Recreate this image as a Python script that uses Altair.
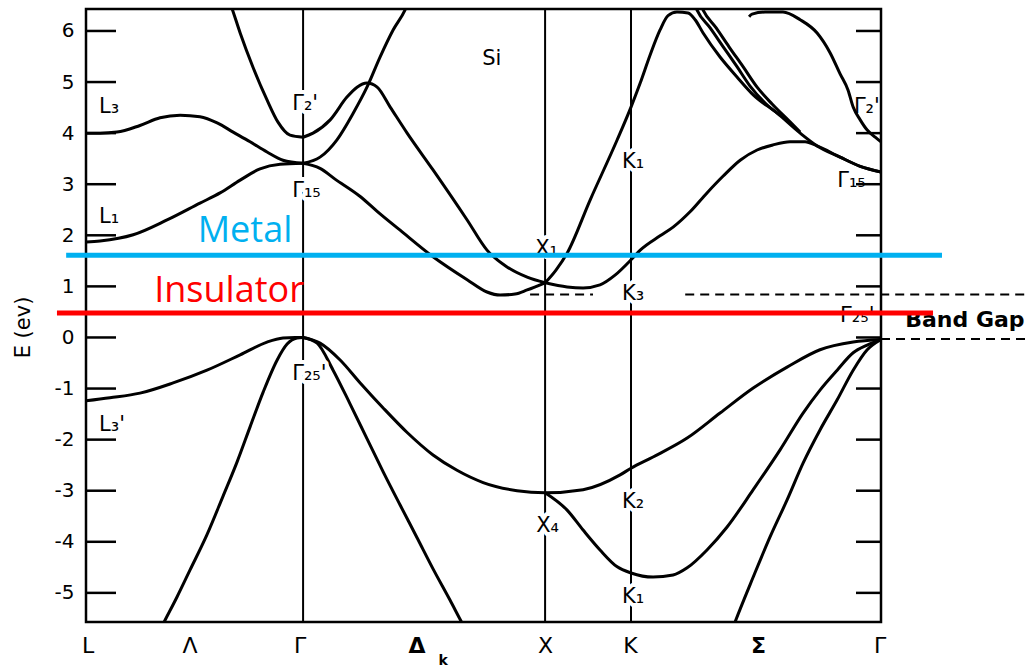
import altair as alt
import pandas as pd

# k-path coordinate in units of 2*pi/a (|Gamma-X| = 1); energies in eV
K_L, K_GAMMA, K_X, K_K, K_GAMMA2 = -0.897, 0.0, 1.0, 1.355, 2.388
E_MIN, E_MAX = -5.57, 6.43

# ---- conduction bands -------------------------------------------------
l3_k = [-0.897, -0.839, -0.769, -0.674, -0.591, -0.508, -0.426, -0.355, -0.289, -0.219, -0.149, -0.083, 0.0]
l3_e = [4.00, 4.00, 4.02, 4.15, 4.30, 4.35, 4.32, 4.20, 4.02, 3.83, 3.63, 3.47, 3.41]

l1_k = [-0.897, -0.839, -0.702, -0.562, -0.426, -0.343, -0.260, -0.178, -0.095, 0.0]
l1_e = [1.87, 1.89, 2.01, 2.30, 2.63, 2.83, 3.08, 3.30, 3.39, 3.41]

g2_left_k = [-0.306, -0.293, -0.260, -0.207, -0.149, -0.103, -0.054, 0.0]
g2_left_e = [6.60, 6.43, 5.96, 5.29, 4.65, 4.21, 3.96, 3.92]

g2_x_k = [0.0, 0.041, 0.112, 0.182, 0.223, 0.264, 0.306, 0.360, 0.430, 0.537, 0.678, 0.760, 0.843, 0.926, 1.0]
g2_x_e = [3.92, 4.00, 4.26, 4.71, 4.90, 4.98, 4.90, 4.51, 4.00, 3.28, 2.30, 1.71, 1.38, 1.18, 1.07]

g15_up_k = [0.0, 0.070, 0.140, 0.207, 0.264, 0.318, 0.372, 0.421, 0.438]
g15_up_e = [3.41, 3.53, 3.87, 4.39, 4.90, 5.49, 6.02, 6.41, 6.60]

delta1_k = [0.0, 0.070, 0.132, 0.236, 0.306, 0.401, 0.537, 0.678, 0.760, 0.814, 0.876, 0.926, 1.0]
delta1_e = [3.41, 3.31, 3.10, 2.76, 2.47, 2.10, 1.58, 1.13, 0.89, 0.83, 0.85, 0.93, 1.07]

xk_low_k = [1.0, 1.091, 1.157, 1.227, 1.289, 1.355, 1.393, 1.475, 1.529, 1.599, 1.669, 1.736,
            1.806, 1.876, 1.942, 2.012, 2.074, 2.124, 2.219, 2.302, 2.388]
xk_low_e = [1.07, 0.99, 0.97, 1.03, 1.22, 1.52, 1.71, 1.99, 2.16, 2.46, 2.83, 3.16,
            3.47, 3.67, 3.77, 3.83, 3.83, 3.75, 3.53, 3.35, 3.24]

xk_steep_k = [1.0, 1.045, 1.091, 1.186, 1.298, 1.355, 1.393, 1.434, 1.475, 1.508, 1.545, 1.591,
              1.620, 1.653, 1.723, 1.793, 1.860, 1.959, 2.054, 2.124, 2.219, 2.302, 2.388]
xk_steep_e = [1.07, 1.32, 1.65, 2.69, 3.87, 4.51, 4.98, 5.53, 6.02, 6.30, 6.37, 6.35,
              6.22, 5.96, 5.49, 5.10, 4.75, 4.39, 4.00, 3.75, 3.53, 3.35, 3.24]

sigma_a_k = [1.616, 1.628, 1.682, 1.736, 1.793, 1.847, 1.909, 1.971]
sigma_a_e = [6.55, 6.41, 6.06, 5.69, 5.30, 4.92, 4.59, 4.35]

sigma_b_k = [1.640, 1.653, 1.707, 1.760, 1.818, 1.876, 1.938, 2.012, 2.054]
sigma_b_e = [6.55, 6.41, 6.06, 5.69, 5.30, 4.90, 4.57, 4.22, 4.02]

g2_right_k = [1.843, 1.855, 1.909, 1.983, 2.054, 2.124, 2.178, 2.219, 2.252, 2.273, 2.302, 2.331, 2.364, 2.388]
g2_right_e = [6.28, 6.33, 6.37, 6.37, 6.22, 5.96, 5.57, 5.16, 4.84, 4.51, 4.26, 4.06, 3.92, 3.83]

# ---- valence bands ----------------------------------------------------
l3p_k = [-0.897, -0.798, -0.674, -0.537, -0.397, -0.260, -0.149, -0.083, -0.033, 0.0]
l3p_e = [-1.24, -1.18, -1.09, -0.89, -0.64, -0.34, -0.09, -0.01, 0.0, 0.0]

lambda1_k = [-0.583, -0.570, -0.521, -0.467, -0.397, -0.331, -0.273, -0.219, -0.165, -0.107, -0.066, -0.025, 0.0]
lambda1_e = [-5.65, -5.53, -5.08, -4.55, -3.86, -3.11, -2.44, -1.75, -1.07, -0.44, -0.13, -0.01, 0.0]

top_val_k = [0.0, 0.070, 0.153, 0.236, 0.331, 0.430, 0.537, 0.636, 0.744, 0.884, 1.0, 1.157, 1.310,
             1.355, 1.446, 1.587, 1.723, 1.860, 2.0, 2.136, 2.273, 2.388]
top_val_e = [0.0, -0.11, -0.44, -0.89, -1.38, -1.86, -2.30, -2.60, -2.84, -3.00, -3.04, -2.98, -2.69,
             -2.56, -2.34, -1.97, -1.48, -0.99, -0.58, -0.24, -0.09, -0.04]

delta_val_k = [0.0, 0.058, 0.124, 0.194, 0.264, 0.331, 0.401, 0.471, 0.537, 0.607, 0.657, 0.665]
delta_val_e = [0.0, -0.11, -0.64, -1.30, -1.98, -2.63, -3.28, -3.92, -4.53, -5.14, -5.59, -5.66]

x4_k = [1.0, 1.091, 1.157, 1.227, 1.298, 1.355, 1.446, 1.529, 1.587, 1.669, 1.752, 1.860, 1.971,
        2.066, 2.136, 2.207, 2.273, 2.331, 2.388]
x4_e = [-3.04, -3.38, -3.77, -4.16, -4.49, -4.61, -4.69, -4.65, -4.51, -4.16, -3.71, -2.98, -2.20,
        -1.48, -1.03, -0.64, -0.30, -0.15, -0.04]

sigma_val_k = [1.777, 1.785, 1.860, 1.930, 2.0, 2.066, 2.136, 2.207, 2.273, 2.331, 2.388]
sigma_val_e = [-5.67, -5.57, -4.69, -3.90, -3.18, -2.46, -1.81, -1.22, -0.64, -0.24, -0.04]

# ---- annotations ------------------------------------------------------
tick_values = list(range(-5, 7))
sym_k = [K_GAMMA, K_X, K_K]

gap_top_e = 0.84
gap_top_k0 = [0.938, 1.579]
gap_top_k1 = [1.198, 2.996]
gap_bottom_e = -0.03
gap_bottom_k0 = [2.388]
gap_bottom_k1 = [3.004]

metal_e, metal_k0, metal_k1 = 1.61, -0.979, 2.640
insul_e, insul_k0, insul_k1 = 0.48, -1.017, 2.603

line_labels = ["Γ₂'", "Γ₁₅", "Γ₂₅'", "X₁", "X₄", "K₁", "K₃", "K₂", "K₁"]
line_label_k = [-0.045, -0.045, -0.045, 0.959, 0.963, 1.318, 1.318, 1.318, 1.318]
line_label_e = [4.45, 2.75, -0.83, 1.61, -3.81, 3.32, 0.73, -3.34, -5.20]

free_labels = ["L₃", "L₁", "L₃'", "Γ₂'", "Γ₁₅", "Γ₂₅'"]
free_label_k = [-0.843, -0.843, -0.843, 2.276, 2.207, 2.219]
free_label_e = [4.39, 2.24, -1.83, 4.39, 2.95, 0.30]

path_names = ["L", "Λ", "Γ", "X", "K", "Γ"]
path_k = [-0.888, -0.467, -0.012, 1.002, 1.353, 2.384]
path_bold_names = ["Δ", "Σ"]
path_bold_k = [0.471, 1.882]
delta_sub_k = 0.579

# ---- tables -------------------------------------------------------------
band_lists = [
    ("L3", l3_k, l3_e), ("L1", l1_k, l1_e), ("G2L", g2_left_k, g2_left_e),
    ("G2X", g2_x_k, g2_x_e), ("G15up", g15_up_k, g15_up_e), ("D1", delta1_k, delta1_e),
    ("XKlow", xk_low_k, xk_low_e), ("XKsteep", xk_steep_k, xk_steep_e),
    ("SA", sigma_a_k, sigma_a_e), ("SB", sigma_b_k, sigma_b_e), ("G2R", g2_right_k, g2_right_e),
    ("L3p", l3p_k, l3p_e), ("Lam1", lambda1_k, lambda1_e), ("TopVal", top_val_k, top_val_e),
    ("DVal", delta_val_k, delta_val_e), ("X4", x4_k, x4_e), ("SVal", sigma_val_k, sigma_val_e),
]
bands = pd.DataFrame(
    [{"band": name, "k": k, "E": e} for name, ks, es in band_lists for k, e in zip(ks, es)]
)

xs = alt.Scale(domain=[K_L, K_GAMMA2], nice=False, zero=False)
ys = alt.Scale(domain=[E_MIN, E_MAX], nice=False, zero=False)
W, H = 795, 613
LABEL_FONT = "DejaVu Sans"
LABEL_SIZE = 21

band_layer = alt.Chart(bands).mark_line(
    color="black", strokeWidth=3, interpolate="monotone", clip=True
).encode(
    x=alt.X("k:Q", scale=xs, axis=None),
    y=alt.Y(
        "E:Q", scale=ys,
        axis=alt.Axis(
            values=tick_values, ticks=False, domain=False, grid=False,
            labelFont=LABEL_FONT, labelFontSize=20, labelColor="black", labelPadding=12,
            labelExpr="datum.value < 0 ? '-' + (-datum.value) : '' + datum.value",
            title="E (ev)", titleFont=LABEL_FONT, titleFontSize=21, titleFontWeight="normal",
            titleColor="black", titleAngle=-90, titleX=-63, titleY=318,
            titleAlign="center", titleBaseline="middle",
        ),
    ),
    detail="band:N",
)

sym_layer = alt.Chart(pd.DataFrame({"k": sym_k})).mark_rule(color="black", strokeWidth=2).encode(
    x=alt.X("k:Q", scale=xs, axis=None)
)

tick_df = pd.DataFrame({"E": tick_values})
left_ticks = alt.Chart(tick_df).mark_rule(color="black", strokeWidth=2.5).encode(
    y=alt.Y("E:Q", scale=ys, axis=None), x=alt.value(0), x2=alt.value(30)
)
right_ticks = alt.Chart(tick_df).mark_rule(color="black", strokeWidth=2.5).encode(
    y=alt.Y("E:Q", scale=ys, axis=None), x=alt.value(W - 25), x2=alt.value(W)
)

gap_df = pd.DataFrame({
    "k0": gap_top_k0 + gap_bottom_k0,
    "k1": gap_top_k1 + gap_bottom_k1,
    "E": [gap_top_e] * len(gap_top_k0) + [gap_bottom_e] * len(gap_bottom_k0),
})
gap_layer = alt.Chart(gap_df).mark_rule(color="black", strokeWidth=2, strokeDash=[9, 6]).encode(
    x=alt.X("k0:Q", scale=xs, axis=None), x2="k1:Q", y=alt.Y("E:Q", scale=ys, axis=None)
)

line_lab_df = pd.DataFrame({"text": line_labels, "k": line_label_k, "E": line_label_e})
free_lab_df = pd.DataFrame({"text": free_labels, "k": free_label_k, "E": free_label_e})
lab_enc = dict(
    x=alt.X("k:Q", scale=xs, axis=None), y=alt.Y("E:Q", scale=ys, axis=None), text="text:N"
)
halo_layer = alt.Chart(line_lab_df).mark_text(
    align="left", baseline="alphabetic", font=LABEL_FONT, fontSize=LABEL_SIZE,
    color="white", stroke="white", strokeWidth=8, strokeJoin="round",
).encode(**lab_enc)
line_lab_layer = alt.Chart(line_lab_df).mark_text(
    align="left", baseline="alphabetic", font=LABEL_FONT, fontSize=LABEL_SIZE, color="black"
).encode(**lab_enc)
free_lab_layer = alt.Chart(free_lab_df).mark_text(
    align="left", baseline="alphabetic", font=LABEL_FONT, fontSize=LABEL_SIZE, color="black"
).encode(**lab_enc)

si_layer = alt.Chart(pd.DataFrame({"text": ["Si"], "k": [0.740], "E": [5.33]})).mark_text(
    align="left", baseline="alphabetic", font=LABEL_FONT, fontSize=21, color="black"
).encode(**lab_enc)

path_layer = alt.Chart(pd.DataFrame({"text": path_names, "k": path_k})).mark_text(
    align="center", baseline="alphabetic", font=LABEL_FONT, fontSize=22, color="black"
).encode(x=alt.X("k:Q", scale=xs, axis=None), y=alt.value(H + 31), text="text:N")
path_bold_layer = alt.Chart(pd.DataFrame({"text": path_bold_names, "k": path_bold_k})).mark_text(
    align="center", baseline="alphabetic", font=LABEL_FONT, fontSize=22, fontWeight="bold", color="black"
).encode(x=alt.X("k:Q", scale=xs, axis=None), y=alt.value(H + 31), text="text:N")
path_sub_layer = alt.Chart(pd.DataFrame({"text": ["k"], "k": [delta_sub_k]})).mark_text(
    align="center", baseline="alphabetic", font=LABEL_FONT, fontSize=14, fontWeight="bold", color="black"
).encode(x=alt.X("k:Q", scale=xs, axis=None), y=alt.value(H + 43), text="text:N")

band_gap_layer = alt.Chart(pd.DataFrame({"text": ["Band Gap"], "k": [2.488], "E": [0.21]})).mark_text(
    align="left", baseline="alphabetic", font=LABEL_FONT, fontSize=22, fontWeight="bold", color="black"
).encode(**lab_enc)

level_df = pd.DataFrame({
    "k0": [metal_k0, insul_k0], "k1": [metal_k1, insul_k1], "E": [metal_e, insul_e],
    "kind": ["Metal", "Insulator"],
})
level_color = alt.Color(
    "kind:N", scale=alt.Scale(domain=["Metal", "Insulator"], range=["#00B0F0", "#FF0000"]), legend=None
)
level_layer = alt.Chart(level_df).mark_rule(strokeWidth=5).encode(
    x=alt.X("k0:Q", scale=xs, axis=None), x2="k1:Q",
    y=alt.Y("E:Q", scale=ys, axis=None), color=level_color,
)
level_text_df = pd.DataFrame({
    "text": ["Metal", "Insulator"], "k": [-0.240, -0.306], "E": [1.87, 0.69], "kind": ["Metal", "Insulator"]
})
level_text_layer = alt.Chart(level_text_df).mark_text(
    align="center", baseline="alphabetic", font="Comic Sans MS, Open Sans", fontSize=36
).encode(**lab_enc, color=level_color)

chart = alt.layer(
    band_layer, sym_layer, left_ticks, right_ticks, gap_layer,
    halo_layer, line_lab_layer, free_lab_layer, si_layer,
    path_layer, path_bold_layer, path_sub_layer, band_gap_layer,
    level_layer, level_text_layer,
).resolve_axis(
    x="independent", y="independent"
).properties(
    width=W, height=H,
    padding={"left": 86, "top": 9, "right": 151, "bottom": 47},
    autosize=alt.AutoSizeParams(type="none"),
    background="white",
).configure_view(stroke="black", strokeWidth=2.5)

chart.save("out.html", embed_options={"renderer": "svg", "actions": False})
